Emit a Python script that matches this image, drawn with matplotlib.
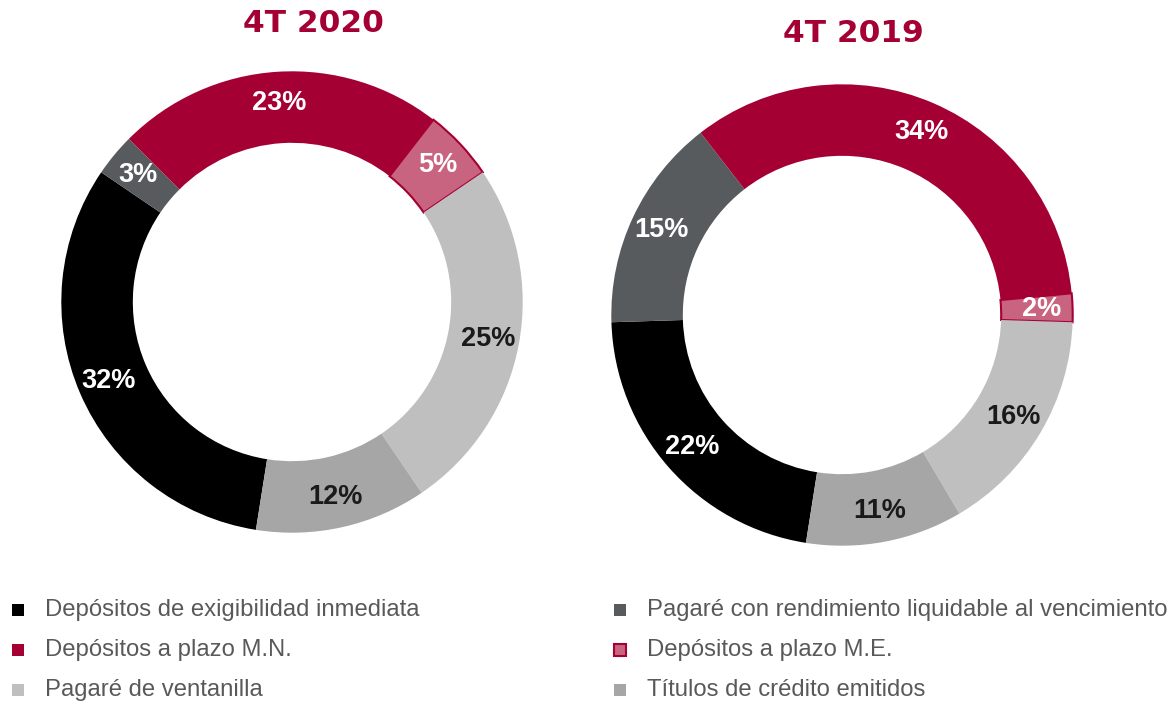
import matplotlib.pyplot as plt
from matplotlib.patches import Rectangle

categorias = ['Depósitos de exigibilidad inmediata',
              'Pagaré con rendimiento liquidable al vencimiento',
              'Depósitos a plazo M.N.',
              'Depósitos a plazo M.E.',
              'Pagaré de ventanilla',
              'Títulos de crédito emitidos']
valores_2020 = [32, 3, 23, 5, 25, 12]
valores_2019 = [22, 15, 34, 2, 16, 11]
titulos = ['4T 2020', '4T 2019']

colores = ['#000000', '#575B5E', '#A50034', '#C8647F', '#BFBFBF', '#A6A6A6']
color_texto = ['white', 'white', 'white', 'white', '#1a1a1a', '#1a1a1a']
rojo = '#A50034'

W, H = 1171, 704
fig = plt.figure(figsize=(W / 100, H / 100), dpi=100)


def px_axes(cx, cy, r):
    return fig.add_axes([(cx - r) / W, (H - cy - r) / H, 2 * r / W, 2 * r / H])


def dona(ax, valores):
    wedges, _, textos = ax.pie(valores, colors=colores, startangle=261, counterclock=False,
                               radius=1.0, wedgeprops=dict(width=0.31, linewidth=0),
                               autopct=lambda p: f'{p:.0f}%', pctdistance=0.865,
                               textprops=dict(family='Liberation Sans', fontsize=19.5,
                                              fontweight='bold'))
    wedges[3].set_edgecolor(rojo)
    wedges[3].set_linewidth(1.5)
    for t, c in zip(textos, color_texto):
        t.set_color(c)
    ax.set_xlim(-1.01, 1.01)
    ax.set_ylim(-1.01, 1.01)
    ax.set_aspect('equal')
    ax.axis('off')


ax1 = px_axes(292, 302, 233)
dona(ax1, valores_2020)
ax2 = px_axes(842, 315, 233)
dona(ax2, valores_2019)

fig.text(313 / W, 1 - 23 / H, titulos[0], ha='center', va='center', color=rojo,
         family='DejaVu Sans', fontweight='bold', fontsize=22.5)
fig.text(853 / W, 1 - 33 / H, titulos[1], ha='center', va='center', color=rojo,
         family='DejaVu Sans', fontweight='bold', fontsize=22.5)

# leyenda manual, 2 columnas por fila
filas_y = [610, 650, 690]
cols_x = [18, 620]
for i, nombre in enumerate(categorias):
    fila, col = divmod(i, 2)
    x, y = cols_x[col], filas_y[fila]
    s = 12
    ec = rojo if i == 3 else colores[i]
    fig.add_artist(Rectangle(((x - s / 2) / W, 1 - (y + s / 2) / H), s / W, s / H,
                             transform=fig.transFigure, facecolor=colores[i],
                             edgecolor=ec, linewidth=1.5 if i == 3 else 0))
    fig.text((x + 27) / W, 1 - y / H, nombre, ha='left', va='center', color='#595959',
             family='Liberation Sans', fontsize=17.2)

fig.savefig('out.png', dpi=100, facecolor='white')
